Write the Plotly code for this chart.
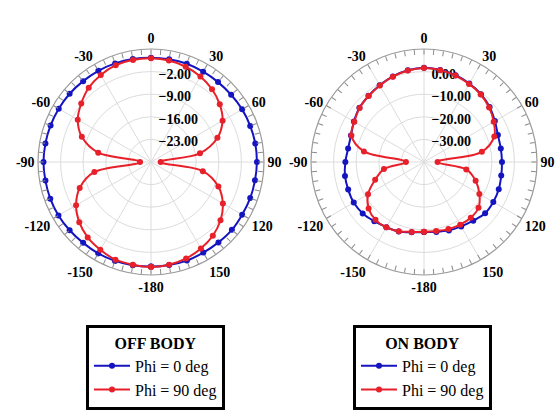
import plotly.graph_objects as go

# ---------------- data ----------------
THETA = list(range(-180, 181, 10))

OFF_PHI0 = [2.4, 2.5, 2.6, 2.7, 2.7, 2.9, 3.1, 3.2, 3.2, 3.3, 3.2, 3.1, 3.0, 2.9, 2.7, 2.6, 2.5, 2.4,
            2.3,
            2.3, 2.4, 2.3, 2.3, 2.4, 2.6, 2.7, 2.8, 2.8, 2.7, 2.7, 2.6, 2.7, 2.5, 2.4, 2.5, 2.4, 2.4]
OFF_PHI90 = [2.5, 2.3, 2.2, 1.4, 0.5, -1.0, -3.2, -6.5, -12.2, -26.6, -13.4, -7.2, -3.8, -1.8, 0.0, 1.1, 1.9, 2.1,
             2.1,
             1.9, 1.4, 0.6, -0.6, -2.2, -4.4, -8.1, -14.6, -27.0, -13.7, -7.8, -4.3, -1.9, -0.2, 0.9, 1.8, 2.3, 2.5]

ON_PHI0 = [-9.0, -8.4, -7.3, -6.7, -5.8, -4.6, -4.1, -4.3, -4.5, -5.2, -5.9, -5.6, -4.2, -2.7, -1.8, -0.8, 0.3, 1.2,
           1.7,
           1.3, 0.9, 0.1, -0.8, -2.1, -3.8, -5.2, -5.5, -5.5, -5.3, -4.8, -4.6, -4.7, -6.1, -7.1, -7.8, -8.6, -9.0]
ON_PHI90 = [-9.1, -8.6, -7.4, -6.6, -6.6, -8.0, -11.4, -17.0, -22.0, -32.0, -13.0, -5.8, -4.4, -2.8, -1.9, -0.9, 0.2, 1.1,
            1.6,
            1.2, 0.7, -0.1, -1.0, -2.4, -4.4, -6.9, -14.0, -34.0, -21.0, -15.7, -11.7, -8.5, -7.8, -8.0, -8.4, -9.0, -9.1]

ANG_TICKVALS = list(range(0, 360, 30))
ANG_TICKTEXT = ["0", "30", "60", "90", "120", "150", "-180", "-150", "-120", "-90", "-60", "-30"]
MINOR_TICKVALS = list(range(0, 360, 5))

OFF_RANGE = [-30, 5]
OFF_TICKS = [-23, -16, -9, -2]
ON_RANGE = [-40, 10]
ON_TICKS = [-30, -20, -10, 0]

SERIES_NAMES = ["Phi = 0 deg", "Phi = 90 deg"]
LEGEND_TITLES = ["OFF BODY", "ON BODY"]
BLUE = "#1414c0"
RED = "#e8202a"

SERIF = "Liberation Serif"

fig = go.Figure()

# background polar subplots (grid + radial labels) need a (empty) trace to be drawn
for sp in ["polar", "polar2"]:
    fig.add_trace(go.Scatterpolar(r=[], theta=[], subplot=sp, showlegend=False, hoverinfo="skip"))

def add_series(subplot, legend, r0, r90):
    fig.add_trace(go.Scatterpolar(
        r=r0, theta=THETA, subplot=subplot, legend=legend, name=SERIES_NAMES[0],
        mode="lines+markers", line=dict(color=BLUE, width=2, shape="spline", smoothing=1),
        marker=dict(color=BLUE, size=6)))
    fig.add_trace(go.Scatterpolar(
        r=r90, theta=THETA, subplot=subplot, legend=legend, name=SERIES_NAMES[1],
        mode="lines+markers", line=dict(color=RED, width=2, shape="spline", smoothing=1),
        marker=dict(color=RED, size=6)))

add_series("polar3", "legend", OFF_PHI0, OFF_PHI90)
add_series("polar4", "legend2", ON_PHI0, ON_PHI90)

W, H = 555, 413
R = 113
def dom(cx, cy):
    return dict(x=[(cx - R) / W, (cx + R) / W], y=[1 - (cy + R) / H, 1 - (cy - R) / H])

LEFT = dom(151, 162)
RIGHT = dom(424, 162)

tickfont = dict(family=SERIF, size=14, color="black", weight="bold")

def bg_polar(domain, rng, ticks):
    return dict(
        domain=domain, bgcolor="white",
        angularaxis=dict(rotation=90, direction="clockwise", tickmode="array",
                         tickvals=ANG_TICKVALS, ticktext=[""] * len(ANG_TICKVALS),
                         showticklabels=False, ticks="", showline=False,
                         showgrid=True, gridcolor="#dcdcdc", gridwidth=1),
        radialaxis=dict(range=rng, tickmode="array", tickvals=ticks, tickformat=".2f",
                        showgrid=True, gridcolor="#dcdcdc", gridwidth=1, showline=False,
                        ticks="", tickfont=tickfont, side="clockwise", angle=90),
    )

def fg_polar(domain, rng):
    return dict(
        domain=domain, bgcolor="rgba(0,0,0,0)",
        angularaxis=dict(rotation=90, direction="clockwise", tickmode="array",
                         tickvals=MINOR_TICKVALS,
                         ticktext=[ANG_TICKTEXT[v // 30] if v % 30 == 0 else "" for v in MINOR_TICKVALS],
                         ticks="inside", ticklen=5, tickcolor="#8a8a8a", tickwidth=1,
                         showline=True, linecolor="#9a9a9a", linewidth=1.2,
                         showgrid=False, tickfont=tickfont),
        radialaxis=dict(range=rng, visible=False, showgrid=False),
    )

legend_common = dict(
    font=dict(family=SERIF, size=16, color="black"),
    bordercolor="black", borderwidth=3, bgcolor="white",
    xanchor="left", yanchor="top", tracegroupgap=2, itemwidth=36,
)

fig.update_layout(
    width=W, height=H, margin=dict(l=0, r=0, t=0, b=0),
    paper_bgcolor="white", template="none", showlegend=True,
    font=dict(family=SERIF),
    polar=bg_polar(LEFT, OFF_RANGE, OFF_TICKS),
    polar2=bg_polar(RIGHT, ON_RANGE, ON_TICKS),
    polar3=fg_polar(LEFT, OFF_RANGE),
    polar4=fg_polar(RIGHT, ON_RANGE),
    legend=dict(x=86 / W, y=1 - 325 / H,
                title=dict(text=LEGEND_TITLES[0], side="top center",
                           font=dict(family=SERIF, size=16, color="black", weight="bold")),
                **legend_common),
    legend2=dict(x=353 / W, y=1 - 325 / H,
                 title=dict(text=LEGEND_TITLES[1], side="top center",
                            font=dict(family=SERIF, size=16, color="black", weight="bold")),
                 **legend_common),
)

fig.write_html("out.html")
